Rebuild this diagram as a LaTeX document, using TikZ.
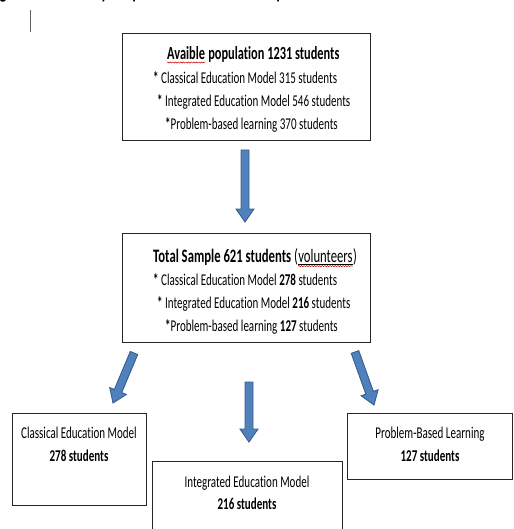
\documentclass[tikz,border=0pt]{standalone}
\usepackage{fontspec}
\setmainfont{Carlito}
\newfontfamily\cf[FakeStretch=0.668, Ligatures={NoCommon}]{Carlito}
\usetikzlibrary{calc,decorations.pathmorphing}
\definecolor{arrfill}{HTML}{4F81BD}
\definecolor{arredge}{HTML}{385D8A}
\newcommand\blockarrow[2]{%
  \filldraw[arrowshape] let \p1=(#1), \p2=(#2), \n1={atan2(\y2-\y1,\x2-\x1)} in
   ($(\p1)+(\n1+90:4pt)$) -- ($(\p2)+(\n1+180:13pt)+(\n1+90:4pt)$)
   -- ($(\p2)+(\n1+180:13pt)+(\n1+90:9pt)$) -- (\p2)
   -- ($(\p2)+(\n1+180:13pt)+(\n1-90:9pt)$) -- ($(\p2)+(\n1+180:13pt)+(\n1-90:4pt)$)
   -- ($(\p1)+(\n1-90:4pt)$) -- cycle;}
\newcommand\bstar{\textbf{*}}
\begin{document}
\begin{tikzpicture}[x=1pt,y=-1pt,
  box/.style={draw=black!85, line width=1.1pt, fill=white, inner sep=0pt, anchor=north west},
  body/.style={inner sep=0pt, font=\cf\fontsize{16.5}{19}\selectfont},
  ttl/.style={inner sep=0pt, font=\cf\bfseries\fontsize{18.5}{21}\selectfont},
  mttl/.style={inner sep=0pt, anchor=base west, font=\cf\fontsize{19}{22}\selectfont},
  capt/.style={inner sep=0pt, anchor=base, font=\cf\bfseries\itshape\fontsize{22}{24}\selectfont},
  arrowshape/.style={draw=arredge, fill=arrfill, line width=0.9pt, line join=miter},
  squig/.style={draw=red!80!black, line width=0.5pt, decorate, decoration={snake, amplitude=0.6pt, segment length=2.6pt}}]
\useasboundingbox (0,0) rectangle (513,529);
\clip (0,0) rectangle (513,529);
% cut-off caption line
\begin{scope}
  \clip (0,0) rectangle (513,7);
  \node[capt] (cg) at (4,-1) {g};
  \node[capt] (cy) at (105,-1) {y};
  \node[capt] (cp1) at (137,-1) {p};
  \node[capt] (cp2) at (281,-1) {p};
\end{scope}
\draw[black!60, line width=0.6pt] (30,10) -- (30,32);

% top box
\node[box, minimum width=248pt, minimum height=107pt] (top) at (122,33) {};
\node[ttl, anchor=base west] (t1w) at (167,60) {Avaible};
\node[ttl, anchor=base west] (t1r) at (t1w.base east) {\ population 1231 students};
\draw[squig] ([yshift=-2.5pt]t1w.base west) -- ([yshift=-2.5pt]t1w.base east);
\node[body, anchor=base west] (t2) at (153,83.5) {\bstar\ Classical Education Model 315 students};
\node[body, anchor=base west] (t3) at (157,106.5) {\bstar\ Integrated Education Model 546 students};
\node[body, anchor=base west] (t4) at (165,129.5) {\bstar Problem-based learning 370 students};

% arrow 1
\coordinate (a0s) at (245,150);
\coordinate (a0e) at (245,222);
\blockarrow{a0s}{a0e}

% middle box
\node[box, minimum width=248pt, minimum height=109pt] (mid) at (122,233) {};
\node[mttl] (m1a) at (153,262.5) {\textbf{Total Sample 621 students}\ (};
\node[mttl] (m1v) at (m1a.base east) {volunteers};
\node[mttl] (m1c) at (m1v.base east) {)};
\draw[black, line width=0.6pt] ([yshift=-1.6pt]m1v.base west) -- ([yshift=-1.6pt]m1v.base east);
\draw[squig] ([yshift=-3.6pt]m1v.base west) -- ([yshift=-3.6pt]m1v.base east);
\node[body, anchor=base west] (m2) at (153,285.5) {\bstar\ Classical Education Model \textbf{278} students};
\node[body, anchor=base west] (m3) at (157,308.5) {\bstar\ Integrated Education Model \textbf{216} students};
\node[body, anchor=base west] (m4) at (165,331.5) {\bstar Problem-based learning \textbf{127} students};

% arrows to bottom boxes
\coordinate (a1s) at (134,353);
\coordinate (a1e) at (113,403);
\coordinate (a2s) at (249,382);
\coordinate (a2e) at (249,442);
\coordinate (a3s) at (355,352);
\coordinate (a3e) at (374,405);
\blockarrow{a1s}{a1e}
\blockarrow{a2s}{a2e}
\blockarrow{a3s}{a3e}

% bottom boxes
\node[box, minimum width=134pt, minimum height=92pt] (bl) at (12,413) {};
\node[body, anchor=base] (bl1) at (79,438.5) {Classical Education Model};
\node[body, anchor=base] (bl2) at (79,461.5) {\textbf{278 students}};

\node[box, minimum width=190pt, minimum height=80pt] (bm) at (152,461) {};
\node[body, anchor=base] (bm1) at (247,487.5) {Integrated Education Model};
\node[body, anchor=base] (bm2) at (247,509.5) {\textbf{216 students}};

\node[box, minimum width=165pt, minimum height=66pt] (br) at (347,413) {};
\node[body, anchor=base] (br1) at (430,438.5) {Problem-Based Learning};
\node[body, anchor=base] (br2) at (430,461.5) {\textbf{127 students}};
\end{tikzpicture}
\end{document}
